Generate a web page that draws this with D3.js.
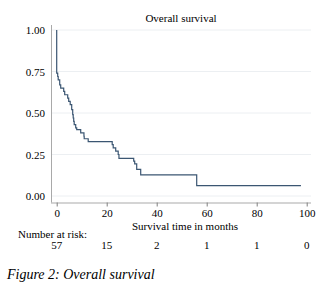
<!DOCTYPE html>
<html lang="en">
<head>
    <meta charset="UTF-8">
    <title>Overall survival</title>
    <script src="https://d3js.org/d3.v7.min.js"></script>
    <style>
        body { margin: 0; background: #fff; }
        svg, svg text { font-family: "Liberation Serif", "DejaVu Serif", serif; fill: #000; }
        .caption { font-style: italic; }
    </style>
</head>
<body>
    <script>
        // Kaplan-Meier steps (months, survival after the drop)
        const eventTimes = [0, 0, 0.4, 0.6, 1.2, 1.6, 2.8, 3.2, 4.4, 4.8, 5.4, 6.0, 6.4, 6.6, 6.8, 7.0, 7.6, 8.0,
            9.6, 10.9, 11.0, 12.6, 22.2, 22.6, 23.6, 24.6, 24.9, 30.8, 31.2, 32.0, 33.6, 56.0, 97.7];
        const survival = [1.00, 0.74, 0.72, 0.70, 0.67, 0.65, 0.63, 0.61, 0.59, 0.57, 0.55, 0.52, 0.49, 0.47, 0.45, 0.43, 0.41, 0.40,
            0.38, 0.36, 0.345, 0.327, 0.31, 0.29, 0.27, 0.25, 0.227, 0.21, 0.193, 0.16, 0.127, 0.063, 0.063];
        const xTicks = [0, 20, 40, 60, 80, 100];
        const yTicks = [0, 0.25, 0.5, 0.75, 1];
        const atRisk = [57, 15, 2, 1, 1, 0];

        const width = 334, height = 288;
        const svg = d3.select("body").append("svg")
            .attr("width", width)
            .attr("height", height);

        const x = d3.scaleLinear().domain([0, 100]).range([56.7, 306.7]);
        const y = d3.scaleLinear().domain([0, 1]).range([196, 30]);
        const plotLeft = 51, plotRight = 311, axisY = 202.5;

        // gridlines
        svg.append("g")
            .selectAll("line")
            .data(yTicks)
            .enter().append("line")
            .attr("x1", plotLeft)
            .attr("x2", plotRight)
            .attr("y1", d => y(d))
            .attr("y2", d => y(d))
            .attr("stroke", "#eceff2")
            .attr("stroke-width", 1);

        // y axis
        const yAxis = svg.append("g")
            .attr("transform", `translate(${plotLeft},0)`)
            .call(d3.axisLeft(y).tickValues(yTicks).tickFormat(d3.format(".2f")).tickSize(0).tickPadding(6))
            .attr("font-family", null)
            .attr("font-size", 11);
        yAxis.select(".domain").attr("d", `M0.5,25V${axisY}`).attr("stroke", "#a9a9a9");
        yAxis.selectAll("text").attr("fill", "#000");

        // x axis
        const xAxis = svg.append("g")
            .attr("transform", `translate(0,${axisY})`)
            .call(d3.axisBottom(x).tickValues(xTicks).tickSize(4).tickPadding(3))
            .attr("font-family", null)
            .attr("font-size", 11);
        xAxis.select(".domain").attr("d", `M${plotLeft},0.5H${plotRight}`).attr("stroke", "#a9a9a9");
        xAxis.selectAll(".tick line").attr("stroke", "#808080");
        xAxis.selectAll("text").attr("fill", "#000");

        // survival curve
        const line = d3.line()
            .x((d, i) => x(eventTimes[i]))
            .y(d => y(d))
            .curve(d3.curveStepAfter);

        svg.append("path")
            .datum(survival)
            .attr("d", line)
            .attr("fill", "none")
            .attr("stroke", "#3b5672")
            .attr("stroke-width", 1.2);

        // titles
        svg.append("text")
            .attr("x", 181)
            .attr("y", 21.5)
            .attr("text-anchor", "middle")
            .attr("font-size", 11)
            .text("Overall survival");

        svg.append("text")
            .attr("x", 185)
            .attr("y", 229.5)
            .attr("text-anchor", "middle")
            .attr("font-size", 11)
            .text("Survival time in months");

        // number at risk table
        svg.append("text")
            .attr("x", 18)
            .attr("y", 237.5)
            .attr("font-size", 11)
            .text("Number at risk:");

        svg.append("g")
            .selectAll("text")
            .data(atRisk)
            .enter().append("text")
            .attr("x", (d, i) => x(xTicks[i]))
            .attr("y", 248.5)
            .attr("text-anchor", "middle")
            .attr("font-size", 11)
            .text(d => d);

        svg.append("text")
            .attr("class", "caption")
            .attr("x", 7)
            .attr("y", 279)
            .attr("font-size", 14)
            .text("Figure 2: Overall survival");
    </script>
</body>
</html>
